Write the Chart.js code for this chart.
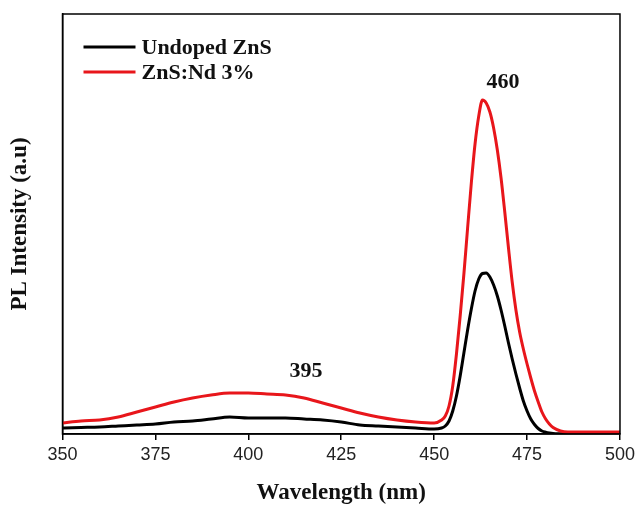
<!DOCTYPE html>
<html>
<head>
<meta charset="utf-8">
<script src="https://cdn.jsdelivr.net/npm/chart.js@4.4.1/dist/chart.umd.min.js"></script>
<style>
  html, body { margin: 0; padding: 0; background: #fff; }
  #wrap { width: 639px; height: 507px; }
</style>
</head>
<body>
<div id="wrap"><canvas id="plChart" width="639" height="507"></canvas></div>
<script>
// wavelengths (nm)
const wavelengths = [350, 355, 360, 365, 370, 375, 380, 385, 390, 395, 400, 405, 410, 415, 420, 425, 430, 435, 440, 445, 450,
    452, 453, 454, 455, 456, 457, 458, 459, 460, 461, 462, 463, 464, 465, 466, 467, 468, 469, 470,
    471, 472, 473, 474, 475, 476, 477, 478, 479, 480, 481, 482, 484, 486, 490, 495, 500];

// PL intensity (arbitrary units)
const undopedIntensity = [6, 6.5, 7, 8, 9, 10, 12, 13, 15, 17, 16, 16, 16, 15, 14, 12, 9, 8, 7, 6, 5,
    6, 8, 13, 23, 38, 58, 81, 104, 125, 143, 155, 160.5, 161, 157, 149, 138, 124, 108, 91,
    75, 60, 46, 33, 23, 15, 9.5, 5.5, 3, 1.8, 1, 0.5, 0.2, 0, 0, 0, 0];

const ndIntensity = [11, 13, 14, 17, 22, 27, 32, 36, 39, 41, 41, 40, 39, 36, 31, 26, 21, 17, 14, 12, 11,
    14, 18, 28, 48, 80, 118, 160, 206, 251, 290, 318, 334, 331, 322, 306, 284, 256, 222, 186,
    152, 124, 102, 85, 70, 56, 43, 32, 22, 15, 10, 6.5, 3, 2, 2, 2, 2];

const seriesLabels = ['Undoped ZnS', 'ZnS:Nd 3%'];
const seriesColors = ['#000000', '#e8161b'];

const xTicks = [350, 375, 400, 425, 450, 475, 500];

// peak labels
const peakNames = ['395', '460'];
const peakAnchors = [{ x: 415.5, y: 63 }, { x: 468.5, y: 352 }];

const serif = "'Liberation Serif', 'Times New Roman', serif";

const toPoints = (ys) => wavelengths.map((w, i) => ({ x: w, y: ys[i] }));

// frame, legend and peak labels
const extrasPlugin = {
    id: 'extras',
    afterDraw(chart) {
        const { ctx, chartArea: a, scales } = chart;
        ctx.save();
        ctx.strokeStyle = '#000';
        ctx.lineWidth = 1.5;
        ctx.strokeRect(a.left, a.top, a.right - a.left, a.bottom - a.top);

        // legend in upper left corner
        ctx.font = 'bold 22px ' + serif;
        ctx.textBaseline = 'middle';
        ctx.textAlign = 'left';
        seriesLabels.forEach((lbl, i) => {
            const y = a.top + 33 + i * 25;
            ctx.strokeStyle = seriesColors[i];
            ctx.lineWidth = 3;
            ctx.beginPath();
            ctx.moveTo(a.left + 21, y);
            ctx.lineTo(a.left + 73, y);
            ctx.stroke();
            ctx.fillStyle = '#111';
            ctx.fillText(lbl, a.left + 79, y + 1);
        });

        // peak annotations
        ctx.textAlign = 'center';
        peakNames.forEach((txt, i) => {
            const px = scales.x.getPixelForValue(peakAnchors[i].x);
            const py = scales.y.getPixelForValue(peakAnchors[i].y);
            ctx.fillText(txt, px, py);
        });
        ctx.restore();
    }
};

new Chart(document.getElementById('plChart'), {
    type: 'line',
    data: {
        datasets: [
            {
                label: seriesLabels[0],
                data: toPoints(undopedIntensity),
                borderColor: seriesColors[0],
                order: 1
            },
            {
                label: seriesLabels[1],
                data: toPoints(ndIntensity),
                borderColor: seriesColors[1],
                order: 0
            }
        ]
    },
    options: {
        responsive: false,
        animation: false,
        layout: { padding: { top: 14, right: 18, left: 0, bottom: 0 } },
        elements: {
            point: { radius: 0 },
            line: { borderWidth: 3, cubicInterpolationMode: 'monotone', fill: false }
        },
        plugins: {
            legend: { display: false },
            tooltip: { enabled: false }
        },
        scales: {
            x: {
                type: 'linear',
                min: 350,
                max: 500,
                afterBuildTicks: (s) => { s.ticks = xTicks.map(v => ({ value: v })); },
                afterFit: (s) => { s.height = 73; },
                grid: { drawOnChartArea: false, drawTicks: true, tickLength: 6, color: '#000', lineWidth: 1.5 },
                border: { display: true, color: '#000', width: 1.5 },
                ticks: {
                    color: '#222',
                    padding: 4,
                    font: { family: "'Liberation Sans', Arial, sans-serif", size: 18 }
                },
                title: {
                    display: true,
                    text: 'Wavelength (nm)',
                    color: '#111',
                    padding: { top: 0, bottom: 0 },
                    font: { family: serif, size: 23, weight: 'bold' }
                }
            },
            y: {
                min: 0,
                max: 420,
                afterFit: (s) => { s.width = 62.5; },
                grid: { display: false },
                border: { display: true, color: '#000', width: 1.5 },
                ticks: { display: false },
                title: {
                    display: true,
                    text: 'PL Intensity (a.u)',
                    color: '#111',
                    padding: { top: 6, bottom: 0 },
                    font: { family: serif, size: 23, weight: 'bold' }
                }
            }
        }
    },
    plugins: [extrasPlugin]
});
</script>
</body>
</html>
